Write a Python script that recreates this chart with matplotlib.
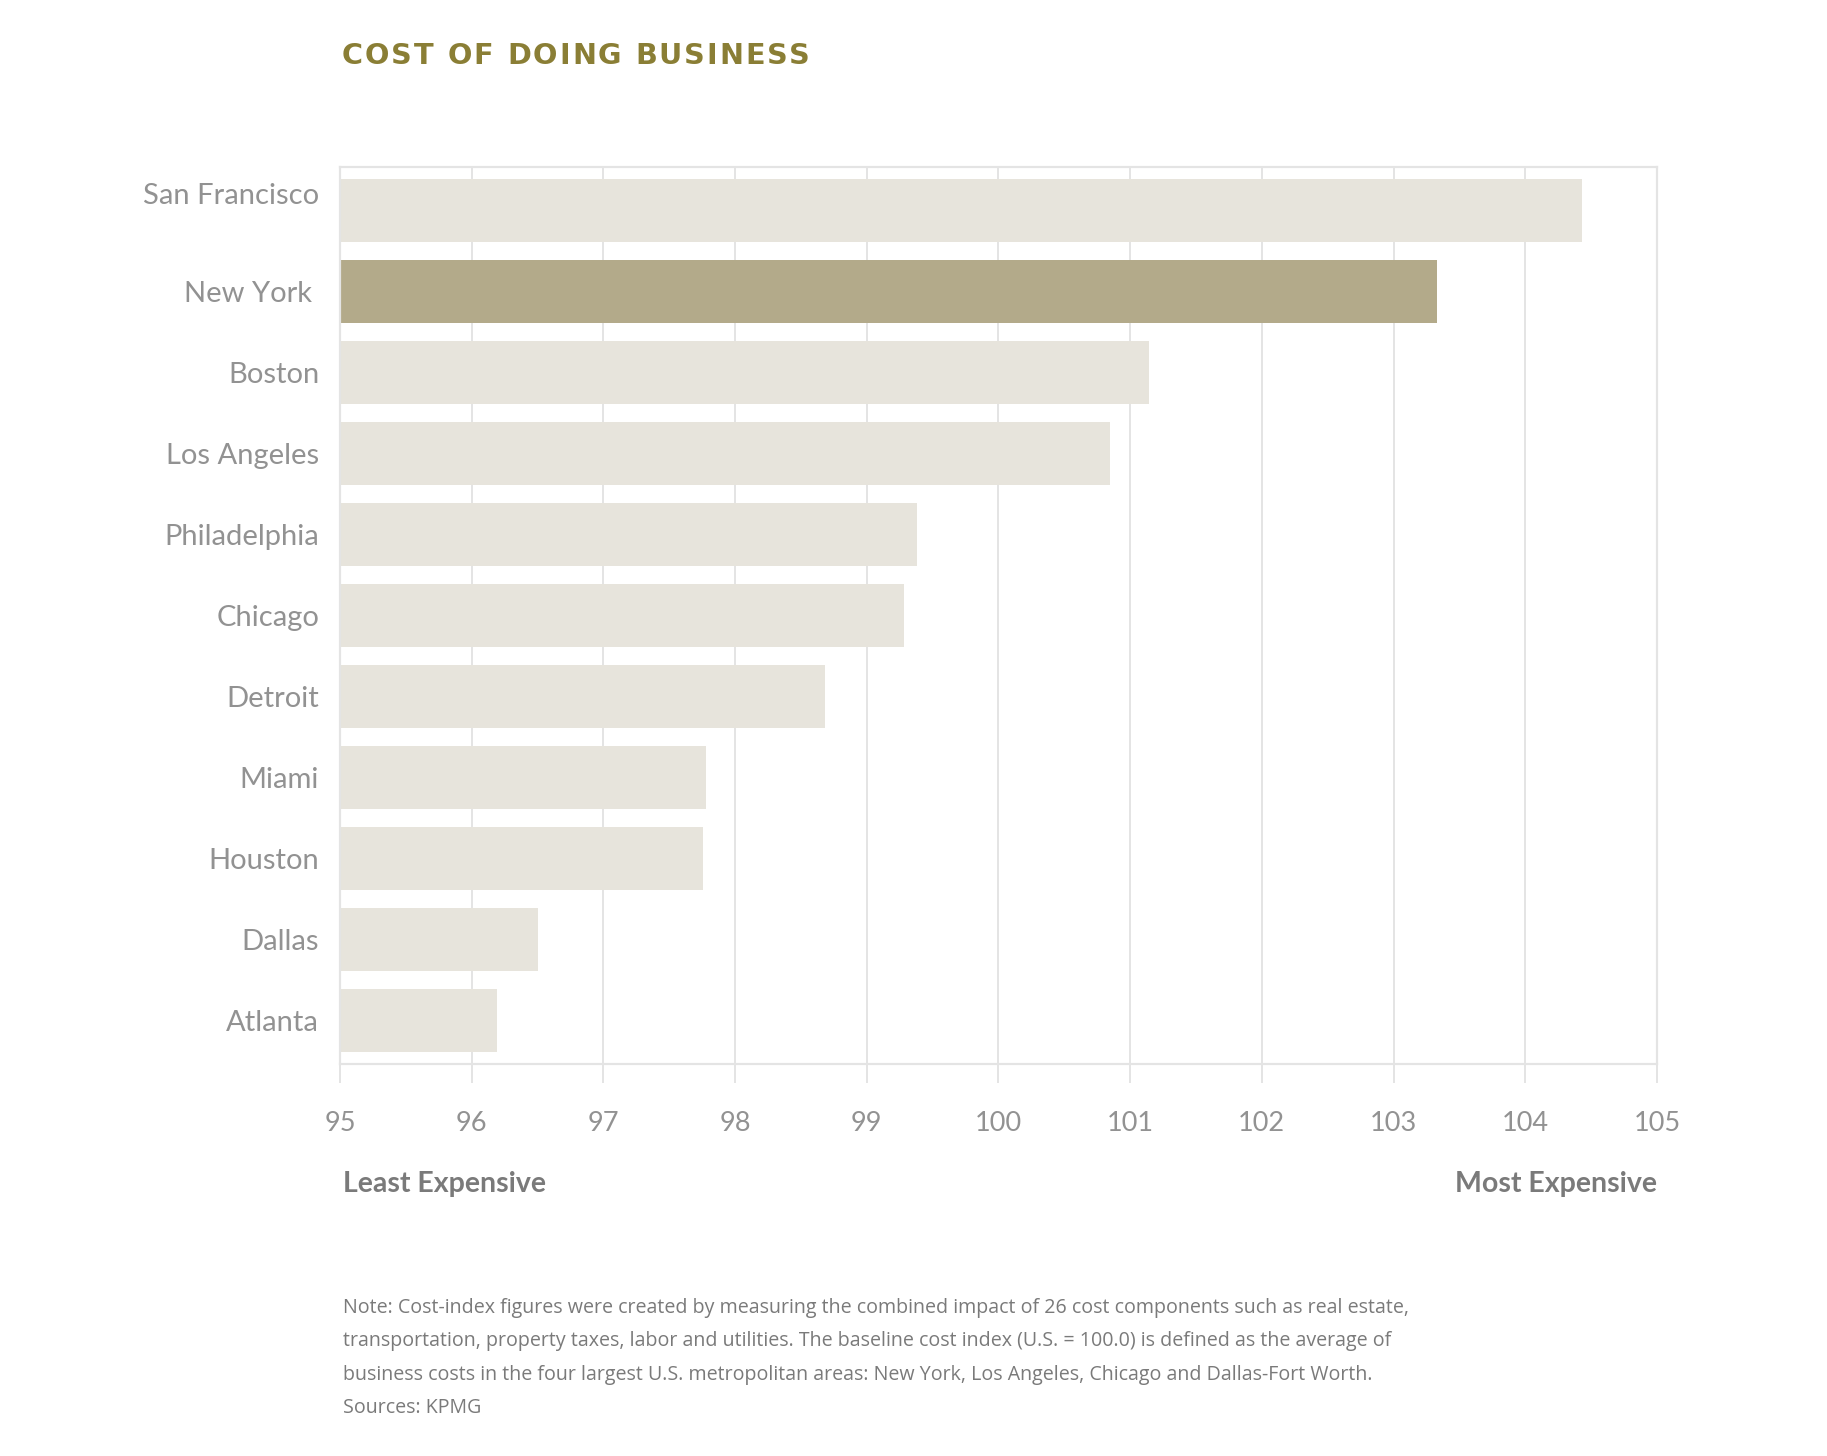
import matplotlib
matplotlib.use("Agg")
import matplotlib.pyplot as plt
from matplotlib.transforms import ScaledTranslation

# data (cost index, U.S. = 100)
cities = ["San Francisco", "New York ", "Boston", "Los Angeles", "Philadelphia",
          "Chicago", "Detroit", "Miami", "Houston", "Dallas", "Atlanta"]
cost_index = [104.43, 103.33, 101.14, 100.85, 99.38, 99.28, 98.68, 97.78, 97.76, 96.5, 96.19]
highlight = "New York "
x_ticks = [95, 96, 97, 98, 99, 100, 101, 102, 103, 104, 105]

title = "COST OF DOING BUSINESS"
note_lines = [
    "Note: Cost-index figures were created by measuring the combined impact of 26 cost components such as real estate,",
    "transportation, property taxes, labor and utilities. The baseline cost index (U.S. = 100.0) is defined as the average of",
    "business costs in the four largest U.S. metropolitan areas: New York, Los Angeles, Chicago and Dallas-Fort Worth.",
    "Sources: KPMG",
]

BAR = "#e7e4dc"
BAR_HI = "#b3aa8a"
GRID = "#e4e4e4"
TEXT = "#929292"
TITLE = "#8a7e35"

plt.rcParams['font.family'] = ['Lato', 'DejaVu Sans']

W, H = 1827, 1456
fig = plt.figure(figsize=(W / 100, H / 100), dpi=100)
ax = fig.add_axes([0.1861, 0.2692, 0.7208, 0.6161])

colors = [BAR_HI if c == highlight else BAR for c in cities]
ax.barh(range(len(cities)), [v - 95 for v in cost_index], left=95,
        height=0.77, color=colors, zorder=2)

ax.set_xlim(95, 105)
ax.set_ylim(len(cities) - 1 + 0.537, -0.537)
ax.set_xticks(x_ticks)
ax.set_xticklabels([str(t) for t in x_ticks])
ax.set_yticks(range(len(cities)))
ax.set_yticklabels(cities)

ax.grid(axis='x', color=GRID, linewidth=1.4, zorder=1)
for s in ax.spines.values():
    s.set_color(GRID)
    s.set_linewidth(1.6)

ax.tick_params(axis='x', length=14, width=1.4, color=GRID, pad=20,
               labelsize=19.5, labelcolor=TEXT)
ax.tick_params(axis='y', length=0, pad=15, labelsize=21, labelcolor=TEXT)

# first label sits a little higher in the original
sf = ax.get_yticklabels()[0]
sf.set_transform(sf.get_transform() + ScaledTranslation(0, 0.17, fig.dpi_scale_trans))

# letter-spaced title
renderer = fig.canvas.get_renderer()
tkw = dict(color=TITLE, fontsize=20.7, fontweight='bold', family=['DejaVu Sans'],
           va='baseline')
widths = []
for ch in title:
    if ch == " ":
        a = fig.text(0, 0, "II", **tkw)
        b = fig.text(0, 0, "I I", **tkw)
        w = b.get_window_extent(renderer).width - a.get_window_extent(renderer).width
        a.remove()
        b.remove()
    else:
        t = fig.text(0, 0, ch, **tkw)
        w = t.get_window_extent(renderer).width
        t.remove()
    widths.append(w)
spacing = (468 - sum(widths)) / (len(title) - 1)
x = 342
for ch, w in zip(title, widths):
    if ch != " ":
        fig.text(x / W, 1 - 64 / H, ch, **tkw)
    x += w + spacing

fig.text(343 / W, 1 - 1192 / H, "Least Expensive", color="#7a7a7a",
         fontsize=20.5, fontweight='bold', va='baseline', ha='left')
fig.text(1657 / W, 1 - 1192 / H, "Most Expensive", color="#7a7a7a",
         fontsize=20.5, fontweight='bold', va='baseline', ha='right')

for i, line in enumerate(note_lines):
    fig.text(343 / W, 1 - (1313 + 33.3 * i) / H, line, color="#7a7a7a",
             fontsize=14.1, family=['Open Sans', 'DejaVu Sans'],
             va='baseline', ha='left')

fig.savefig("out.png", dpi=100, facecolor="white")
